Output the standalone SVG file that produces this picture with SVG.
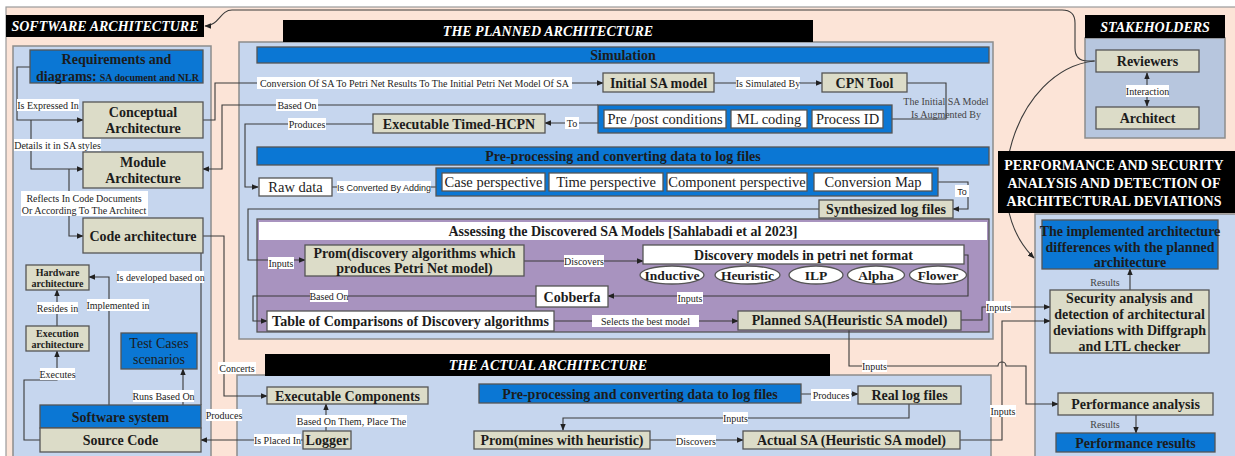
<svg xmlns="http://www.w3.org/2000/svg" width="1235" height="456" viewBox="0 0 1235 456">
  <defs>
    <marker id="arr" viewBox="0 0 10 10" refX="9" refY="5" markerWidth="7" markerHeight="7" orient="auto-start-reverse" markerUnits="userSpaceOnUse">
      <path d="M0,1 L10,5 L0,9 z" fill="#222"/>
    </marker>
    <style>
      .bg { fill:#fce4d7; stroke:#9a9a9a; stroke-width:1.2 }
      .pn { fill:#c6d6ee; stroke:#8c8c8c; stroke-width:1.5 }
      .sk { fill:#b7c6de; stroke:#8c8c8c; stroke-width:1.5 }
      .bx { stroke:#555; stroke-width:1.3 }
      .kh { fill:#dcdcc8 }
      .bl { fill:#0b77d4 }
      .wh { fill:#ffffff }
      .pu { fill:#a893bf; stroke:#555; stroke-width:1.3 }
      .blk { fill:#000 }
      .t { font-family:"Liberation Serif","Times New Roman",serif; fill:#1c1c1c; text-anchor:middle }
      .b { font-weight:bold }
      .f14 { font-size:14px }
      .f145 { font-size:14.5px }
      .f13 { font-size:13.5px }
      .f10 { font-size:10px }
      .ttl { font-family:"Liberation Serif","Times New Roman",serif; font-size:14px; font-weight:bold; font-style:italic; fill:#fff; text-anchor:middle }
      .hd { font-family:"Liberation Serif","Times New Roman",serif; font-size:14px; font-weight:bold; fill:#fff; text-anchor:middle }
      .ln { fill:none; stroke:#3a3a3a; stroke-width:1.1 }
      .lr { fill:#fff }
      .lt { font-family:"Liberation Serif","Times New Roman",serif; font-size:10px; fill:#222; text-anchor:middle }
      .ls { font-family:"Liberation Sans",Arial,sans-serif; font-size:9px; fill:#222; text-anchor:middle }
      .gr { font-family:"Liberation Serif","Times New Roman",serif; font-size:10px; fill:#444; text-anchor:middle }
    </style>
  </defs>

  <!-- page background -->
  <rect x="0" y="0" width="1235" height="456" fill="#fff"/>
  <rect class="bg" x="6" y="7" width="1235" height="460"/>

  <!-- panels -->
  <g id="panels">
    <rect class="pn" x="13" y="46" width="198" height="420"/>
    <rect class="pn" x="239" y="42" width="754" height="297"/>
    <rect class="pn" x="237" y="375" width="754" height="90"/>
    <rect class="pn" x="1035" y="214" width="205" height="250"/>
    <rect class="sk" x="1085" y="38" width="140" height="100"/>
    <rect class="pu" x="257" y="219" width="732" height="113"/>
    <rect class="wh" x="259" y="222" width="728" height="18"/>
    <text class="t b f14" x="623" y="236">Assessing the Discovered SA Models [Sahlabadi et al 2023]</text>
  </g>

  <!-- connectors -->
  <g id="connectors">
    <!-- stakeholder links -->
    <path class="ln" d="M1095,61 H1088 Q1075,61 1075,48 V23 Q1075,10 1062,10 H232 C220,10 219,26 205,26" marker-end="url(#arr)"/>
    <path class="ln" d="M1094,61 C1015,70 975,200 1034,258" marker-end="url(#arr)"/>
    <path class="ln" d="M1147,73 V106" marker-start="url(#arr)" marker-end="url(#arr)"/>

    <!-- software architecture column -->
    <path class="ln" d="M30,67 H17 V120 H83" marker-end="url(#arr)"/>
    <path class="ln" d="M31,120 V169 H83" marker-end="url(#arr)"/>
    <path class="ln" d="M69,169 V236 H83" marker-end="url(#arr)"/>
    <path class="ln" d="M201,253 V405"/>
    <path class="ln" d="M109,405 V277 H89" marker-end="url(#arr)"/>
    <path class="ln" d="M57,326 V290" marker-end="url(#arr)"/>
    <path class="ln" d="M40,440 H24 V380 H57 V351" marker-end="url(#arr)"/>
    <path class="ln" d="M183,405 V369" marker-end="url(#arr)"/>
    <path class="ln" d="M203,236 H224 V396 H267" marker-end="url(#arr)"/>
    <path class="ln" d="M303,440 H201" marker-end="url(#arr)"/>
    <path class="ln" d="M326,431 V404" marker-end="url(#arr)"/>

    <!-- planned architecture -->
    <path class="ln" d="M203,120 H215 V83 H603" marker-end="url(#arr)"/>
    <path class="ln" d="M598,105 H222 V169 H203" marker-end="url(#arr)"/>
    <path class="ln" d="M714,83 H822" marker-end="url(#arr)"/>
    <path class="ln" d="M907,83 H946 V119 H892"/>
    <path class="ln" d="M598,123 H545" marker-end="url(#arr)"/>
    <path class="ln" d="M373,124 H245 V187 H258" marker-end="url(#arr)"/>
    <path class="ln" d="M332,187 H436"/>
    <path class="ln" d="M938,182 H968 V209 H953" marker-end="url(#arr)"/>
    <path class="ln" d="M819,209 H248 V260 H305" marker-end="url(#arr)"/>
    <path class="ln" d="M524,261 H643" marker-end="url(#arr)"/>
    <path class="ln" d="M964,255 H968 V296 H608" marker-end="url(#arr)"/>
    <path class="ln" d="M536,296 H253 V321 H267" marker-end="url(#arr)"/>
    <path class="ln" d="M554,321 H738" marker-end="url(#arr)"/>
    <path class="ln" d="M961,320 H982 V307 H1050" marker-end="url(#arr)"/>
    <path class="ln" d="M849,330 V366 H998 A4,4 0 0 1 1006,366 H1026 V404 H1058" marker-end="url(#arr)"/>

    <!-- actual architecture -->
    <path class="ln" d="M801,394 H858" marker-end="url(#arr)"/>
    <path class="ln" d="M909,404 V418 H563 V430" marker-end="url(#arr)"/>
    <path class="ln" d="M650,440 H743" marker-end="url(#arr)"/>
    <path class="ln" d="M960,440 H1002 V321 H1050" marker-end="url(#arr)"/>

    <!-- analysis results -->
    <path class="ln" d="M1130,290 V269" marker-end="url(#arr)"/>
    <path class="ln" d="M1136,415 V433" marker-end="url(#arr)"/>

    <!-- connector labels -->
    <g>
      <rect class="lr" x="17" y="99" width="62" height="12"/>
      <text class="lt" x="48" y="108.5">Is Expressed In</text>
      <rect class="lr" x="14" y="139" width="87" height="12"/>
      <text class="lt" x="57.5" y="148.5">Details it in SA styles</text>
      <rect class="lr" x="21" y="191" width="127" height="25"/>
      <text class="lt" x="84" y="201.5">Reflects In Code Documents</text>
      <text class="lt" x="84" y="213.5">Or According To The Architect</text>
      <rect class="lr" x="117" y="271" width="87" height="12"/>
      <text class="lt" x="160.5" y="280.5">Is developed based on</text>
      <rect class="lr" x="87" y="299" width="62" height="12"/>
      <text class="lt" x="118" y="308.5">Implemented in</text>
      <rect class="lr" x="37" y="302" width="41" height="12"/>
      <text class="lt" x="57.5" y="311.5">Resides in</text>
      <rect class="lr" x="40" y="368" width="35" height="12"/>
      <text class="lt" x="57.5" y="377.5">Executes</text>
      <rect class="lr" x="133" y="390" width="61" height="12"/>
      <text class="lt" x="163.5" y="399.5">Runs Based On</text>
      <rect class="lr" x="218" y="362" width="38" height="12"/>
      <text class="lt" x="237" y="371.5">Concerts</text>
      <rect class="lr" x="206" y="409" width="36" height="12"/>
      <text class="lt" x="224" y="418.5">Produces</text>
      <rect class="lr" x="254" y="434" width="47" height="12"/>
      <text class="lt" x="277.5" y="443.5">Is Placed In</text>
      <rect class="lr" x="296" y="415" width="111" height="12"/>
      <text class="lt" x="351.5" y="424.5">Based On Them,  Place The</text>

      <rect class="lr" x="257" y="77" width="315" height="12"/>
      <text class="lt" x="414.5" y="86.5">Conversion Of SA To Petri Net Results To The Initial Petri Net Model Of SA</text>
      <rect class="lr" x="276" y="99" width="42" height="12"/>
      <text class="lt" x="297" y="108.5">Based On</text>
      <rect class="lr" x="288" y="118" width="38" height="12"/>
      <text class="lt" x="307" y="127.5">Produces</text>
      <rect class="lr" x="736" y="77" width="64" height="12"/>
      <text class="lt" x="768" y="86.5">Is Simulated By</text>
      <rect class="lr" x="565" y="117" width="14" height="12"/>
      <text class="lt" x="572" y="126.5">To</text>
      <text class="gr" x="946" y="104.5">The Initial SA Model</text>
      <text class="gr" x="946" y="118">Is Augmented By</text>
      <rect class="lr" x="337" y="181" width="94" height="12"/>
      <text class="ls" x="384" y="190.5">Is Converted By Adding</text>
      <rect class="lr" x="955" y="185" width="14" height="12"/>
      <text class="ls" x="962" y="194.5">To</text>
      <rect class="lr" x="268" y="257" width="26" height="12"/>
      <text class="lt" x="281" y="266.5">Inputs</text>
      <rect class="lr" x="564" y="255" width="40" height="12"/>
      <text class="lt" x="584" y="264.5">Discovers</text>
      <rect class="lr" x="677" y="292" width="26" height="12"/>
      <text class="lt" x="690" y="301.5">Inputs</text>
      <rect class="lr" x="310" y="290" width="38" height="12"/>
      <text class="lt" x="329" y="299.5">Based On</text>
      <rect class="lr" x="592" y="315" width="107" height="12"/>
      <text class="lt" x="645.5" y="324.5">Selects the best model</text>
      <rect class="lr" x="986" y="301" width="25" height="12"/>
      <text class="lt" x="998.5" y="310.5">Inputs</text>
      <rect class="lr" x="862" y="360" width="25" height="12"/>
      <text class="lt" x="874.5" y="369.5">Inputs</text>
      <rect class="lr" x="990" y="405" width="26" height="12"/>
      <text class="lt" x="1003" y="414.5">Inputs</text>

      <rect class="lr" x="811" y="389" width="40" height="12"/>
      <text class="lt" x="831" y="398.5">Produces</text>
      <rect class="lr" x="723" y="412" width="25" height="12"/>
      <text class="lt" x="735.5" y="421.5">Inputs</text>
      <rect class="lr" x="676" y="435" width="40" height="12"/>
      <text class="lt" x="696" y="444.5">Discovers</text>

      <text class="gr" x="1105" y="286">Results</text>
      <text class="gr" x="1105" y="427.5">Results</text>
      <rect class="lr" x="1126" y="85" width="43" height="12"/>
      <text class="lt" x="1147.5" y="94.5">Interaction</text>
    </g>
  </g>

  <!-- section titles -->
  <g id="title-software">
    <rect class="blk" x="6" y="15" width="198" height="22"/>
    <text class="ttl" x="105" y="31">SOFTWARE ARCHITECTURE</text>
  </g>
  <g id="title-planned">
    <rect class="blk" x="283" y="20" width="530" height="22"/>
    <text class="ttl" x="548" y="36">THE PLANNED ARCHITECTURE</text>
  </g>
  <g id="title-actual">
    <rect class="blk" x="265" y="354" width="565" height="22"/>
    <text class="ttl" x="548" y="370">THE ACTUAL ARCHITECTURE</text>
  </g>
  <g id="title-stakeholders">
    <rect class="blk" x="1085" y="15" width="140" height="23"/>
    <text class="ttl" x="1155" y="31.5">STAKEHOLDERS</text>
  </g>
  <g id="title-analysis">
    <rect class="blk" x="998" y="151" width="237" height="62"/>
    <text class="hd" x="1114" y="170">PERFORMANCE AND SECURITY</text>
    <text class="hd" x="1114" y="188">ANALYSIS AND DETECTION OF</text>
    <text class="hd" x="1114" y="206">ARCHITECTURAL DEVIATIONS</text>
  </g>

  <!-- software architecture nodes -->
  <g id="requirements">
    <rect class="bx bl" x="30" y="50" width="173" height="33"/>
    <text class="t b f14" x="116.5" y="64">Requirements and</text>
    <text class="t b" x="36" y="81" style="text-anchor:start"><tspan font-size="14">diagrams:</tspan><tspan font-size="10" dx="3">SA document and NLR</tspan></text>
  </g>
  <g id="conceptual">
    <rect class="bx kh" x="83" y="102" width="120" height="36"/>
    <text class="t b f14" x="143" y="117">Conceptual</text>
    <text class="t b f14" x="143" y="133">Architecture</text>
  </g>
  <g id="module">
    <rect class="bx kh" x="83" y="152" width="120" height="36"/>
    <text class="t b f14" x="143" y="167">Module</text>
    <text class="t b f14" x="143" y="183">Architecture</text>
  </g>
  <g id="code-architecture">
    <rect class="bx kh" x="83" y="218" width="120" height="35"/>
    <text class="t b f14" x="143" y="240.5">Code architecture</text>
  </g>
  <g id="hardware">
    <rect class="bx kh" x="26" y="265" width="63" height="25"/>
    <text class="t b" font-size="10" x="57.5" y="275.5">Hardware</text>
    <text class="t b" font-size="10" x="57.5" y="287">architecture</text>
  </g>
  <g id="execution">
    <rect class="bx kh" x="26" y="326" width="63" height="25"/>
    <text class="t b" font-size="10" x="57.5" y="336.5">Execution</text>
    <text class="t b" font-size="10" x="57.5" y="348">architecture</text>
  </g>
  <g id="test-cases">
    <rect class="bx bl" x="121" y="333" width="76" height="36"/>
    <text class="t f14" x="159" y="348">Test Cases</text>
    <text class="t f14" x="159" y="364">scenarios</text>
  </g>
  <g id="software-system">
    <rect class="bx bl" x="40" y="405" width="161" height="23"/>
    <text class="t b f14" x="120.5" y="421.5">Software system</text>
  </g>
  <g id="source-code">
    <rect class="bx kh" x="40" y="428" width="161" height="24"/>
    <text class="t b f14" x="120.5" y="445">Source Code</text>
  </g>

  <!-- planned architecture nodes -->
  <g id="simulation">
    <rect class="bx bl" x="257" y="47" width="732" height="16"/>
    <text class="t b f14" x="623" y="60">Simulation</text>
  </g>
  <g id="initial-sa">
    <rect class="bx kh" x="603" y="73" width="111" height="19"/>
    <text class="t b f14" x="658.5" y="87.5">Initial SA model</text>
  </g>
  <g id="cpn-tool">
    <rect class="bx kh" x="822" y="73" width="85" height="19"/>
    <text class="t b f14" x="864.5" y="87.5">CPN Tool</text>
  </g>
  <g id="augmentations">
    <rect class="bx bl" x="598" y="105" width="294" height="28"/>
    <rect class="bx wh" x="604" y="110" width="122" height="18"/>
    <text class="t f145" x="665" y="124">Pre /post conditions</text>
    <rect class="bx wh" x="731" y="110" width="76" height="18"/>
    <text class="t f145" x="769" y="124">ML coding</text>
    <rect class="bx wh" x="812" y="110" width="71" height="18"/>
    <text class="t f145" x="847.5" y="124">Process ID</text>
  </g>
  <g id="timed-hcpn">
    <rect class="bx kh" x="373" y="114" width="172" height="19"/>
    <text class="t b f14" x="459" y="128.5">Executable Timed-HCPN</text>
  </g>
  <g id="preprocessing-planned">
    <rect class="bx bl" x="257" y="147" width="732" height="18"/>
    <text class="t b f14" x="623" y="161">Pre-processing and converting data to log files</text>
  </g>
  <g id="raw-data">
    <rect class="bx wh" x="259" y="178" width="73" height="18"/>
    <text class="t f145" x="295.5" y="192">Raw data</text>
  </g>
  <g id="perspectives">
    <rect class="bx bl" x="436" y="168" width="502" height="28"/>
    <rect class="bx wh" x="442" y="173" width="103" height="18"/>
    <text class="t f145" x="493.5" y="187">Case perspective</text>
    <rect class="bx wh" x="549" y="173" width="114" height="18"/>
    <text class="t f145" x="606" y="187">Time perspective</text>
    <rect class="bx wh" x="667" y="173" width="140" height="18"/>
    <text class="t f145" x="737" y="187">Component perspective</text>
    <rect class="bx wh" x="814" y="173" width="118" height="18"/>
    <text class="t f145" x="873" y="187">Conversion Map</text>
  </g>
  <g id="synthesized-logs">
    <rect class="bx kh" x="819" y="200" width="134" height="18"/>
    <text class="t b f14" x="886" y="214">Synthesized log files</text>
  </g>
  <g id="prom-discovery">
    <rect class="bx kh" x="305" y="245" width="219" height="31"/>
    <text class="t b f14" x="414.5" y="258">Prom(discovery algorithms which</text>
    <text class="t b f14" x="414.5" y="273">produces Petri Net model)</text>
  </g>
  <g id="discovery-models">
    <rect class="bx wh" x="643" y="245" width="321" height="19"/>
    <text class="t b f14" x="803.5" y="259.5">Discovery models in petri net format</text>
    <ellipse class="bx wh" cx="672" cy="275" rx="32" ry="9"/>
    <text class="t b f13" x="672" y="280">Inductive</text>
    <ellipse class="bx wh" cx="747.5" cy="275" rx="32.5" ry="9"/>
    <text class="t b f13" x="747.5" y="280">Heuristic</text>
    <ellipse class="bx wh" cx="816" cy="275" rx="27" ry="9"/>
    <text class="t b f13" x="816" y="280">ILP</text>
    <ellipse class="bx wh" cx="876" cy="275" rx="28.5" ry="9"/>
    <text class="t b f13" x="876" y="280">Alpha</text>
    <ellipse class="bx wh" cx="938" cy="275" rx="28.5" ry="9"/>
    <text class="t b f13" x="938" y="280">Flower</text>
  </g>
  <g id="cobberfa">
    <rect class="bx wh" x="536" y="286" width="72" height="21"/>
    <text class="t b f14" x="572" y="301.5">Cobberfa</text>
  </g>
  <g id="comparison-table">
    <rect class="bx wh" x="267" y="311" width="287" height="20"/>
    <text class="t b f14" x="410.5" y="325.5">Table of Comparisons of Discovery algorithms</text>
  </g>
  <g id="planned-sa">
    <rect class="bx kh" x="738" y="311" width="223" height="19"/>
    <text class="t b f14" x="849.5" y="325">Planned SA(Heuristic SA model)</text>
  </g>

  <!-- actual architecture nodes -->
  <g id="executable-components">
    <rect class="bx kh" x="267" y="387" width="161" height="17"/>
    <text class="t b f14" x="347.5" y="400.5">Executable Components</text>
  </g>
  <g id="logger">
    <rect class="bx kh" x="303" y="431" width="48" height="18"/>
    <text class="t b f14" x="327" y="445">Logger</text>
  </g>
  <g id="preprocessing-actual">
    <rect class="bx bl" x="479" y="384" width="322" height="19"/>
    <text class="t b f14" x="640" y="398.5">Pre-processing and converting data to log files</text>
  </g>
  <g id="real-logs">
    <rect class="bx kh" x="858" y="386" width="103" height="18"/>
    <text class="t b f14" x="909.5" y="400">Real log files</text>
  </g>
  <g id="prom-heuristic">
    <rect class="bx kh" x="474" y="431" width="176" height="18"/>
    <text class="t b f14" x="562" y="445">Prom(mines with heuristic)</text>
  </g>
  <g id="actual-sa">
    <rect class="bx kh" x="743" y="431" width="217" height="18"/>
    <text class="t b f14" x="851.5" y="445">Actual SA (Heuristic SA model)</text>
  </g>

  <!-- stakeholders -->
  <g id="reviewers">
    <rect class="bx kh" x="1096" y="50" width="103" height="22"/>
    <text class="t b f14" x="1147.5" y="66">Reviewers</text>
  </g>
  <g id="architect">
    <rect class="bx kh" x="1096" y="107" width="103" height="22"/>
    <text class="t b f14" x="1147.5" y="123">Architect</text>
  </g>

  <!-- analysis nodes -->
  <g id="implemented-differences">
    <rect class="bx bl" x="1042" y="220" width="176" height="49"/>
    <text class="t b f14" x="1130" y="236">The implemented architecture</text>
    <text class="t b f14" x="1130" y="251.5">differences with the planned</text>
    <text class="t b f14" x="1130" y="266.5">architecture</text>
  </g>
  <g id="security-analysis">
    <rect class="bx kh" x="1050" y="290" width="159" height="63"/>
    <text class="t b f14" x="1129.5" y="303">Security analysis and</text>
    <text class="t b f14" x="1129.5" y="319">detection of architectural</text>
    <text class="t b f14" x="1129.5" y="335">deviations with Diffgraph</text>
    <text class="t b f14" x="1129.5" y="351">and LTL checker</text>
  </g>
  <g id="performance-analysis">
    <rect class="bx kh" x="1058" y="393" width="155" height="22"/>
    <text class="t b f14" x="1135.5" y="409">Performance analysis</text>
  </g>
  <g id="performance-results">
    <rect class="bx bl" x="1056" y="433" width="159" height="19"/>
    <text class="t b f14" x="1135.5" y="447.5">Performance results</text>
  </g>
</svg>
